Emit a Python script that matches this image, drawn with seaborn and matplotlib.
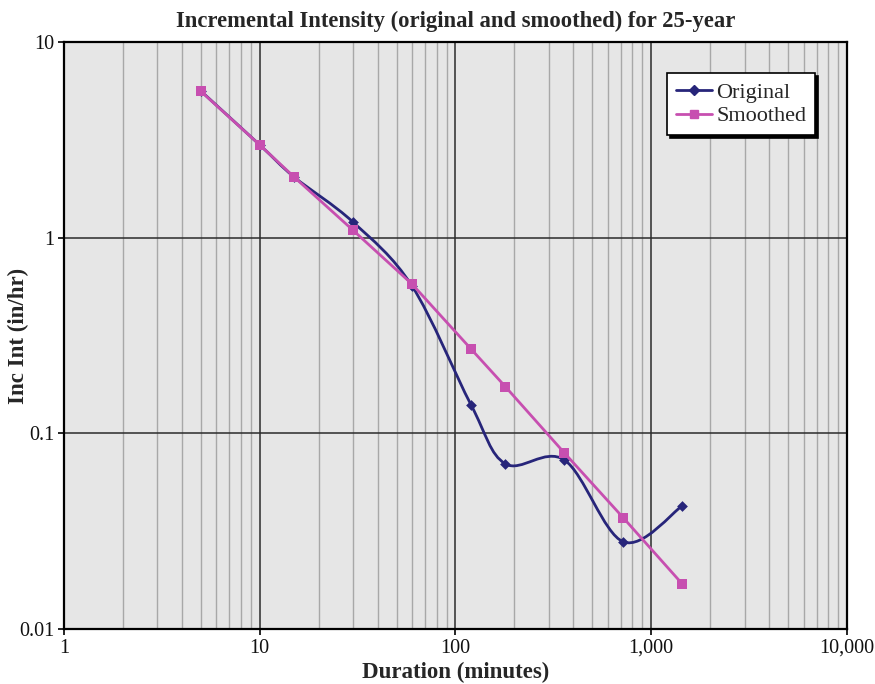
import numpy as np
import pandas as pd
import seaborn as sns
import matplotlib
matplotlib.use("Agg")
import matplotlib.pyplot as plt
from matplotlib.path import Path
from matplotlib.patches import PathPatch
from matplotlib.lines import Line2D
from matplotlib.ticker import FixedLocator, LogLocator, NullFormatter

# Storm durations (minutes) and incremental intensities (in/hr)
duration = [5, 10, 15, 30, 60, 120, 180, 360, 720, 1440]
original = [5.62, 2.98, 2.04, 1.20, 0.566, 0.140, 0.0698, 0.0731, 0.0279, 0.0426]
smoothed = [5.60, 2.98, 2.04, 1.09, 0.579, 0.270, 0.173, 0.0794, 0.0370, 0.0170]

x_ticks = [1, 10, 100, 1000, 10000]
x_tick_labels = ["1", "10", "100", "1,000", "10,000"]
y_ticks = [0.01, 0.1, 1, 10]
y_tick_labels = ["0.01", "0.1", "1", "10"]

NAVY = "#27257a"
MAGENTA = "#c74fb0"

sns.set_theme(style="white")
plt.rcParams["font.family"] = ["Liberation Serif", "DejaVu Serif"]

fig = plt.figure(figsize=(8.75, 6.84), dpi=100)
ax = fig.add_axes([0.0731, 0.0804, 0.8949, 0.8582])
ax.set_facecolor("#e6e6e6")

df = pd.DataFrame({"duration": duration, "original": original, "smoothed": smoothed})

# Smoothed series: straight segments with square markers
sns.lineplot(data=df, x="duration", y="smoothed", ax=ax, color=MAGENTA,
             linewidth=2.0, marker="s", markersize=7, markeredgewidth=0,
             zorder=4, legend=False)


def smooth_path(xs, ys, tension=1 / 6):
    """Cubic Bezier through the points (Catmull-Rom style) built in log space."""
    lx, ly = np.log10(xs), np.log10(ys)
    n = len(lx)
    verts = [(xs[0], ys[0])]
    codes = [Path.MOVETO]
    for i in range(n - 1):
        p0 = i - 1 if i > 0 else i
        p3 = i + 2 if i + 2 < n else i + 1
        c1 = (lx[i] + (lx[i + 1] - lx[p0]) * tension, ly[i] + (ly[i + 1] - ly[p0]) * tension)
        c2 = (lx[i + 1] - (lx[p3] - lx[i]) * tension, ly[i + 1] - (ly[p3] - ly[i]) * tension)
        verts += [(10 ** c1[0], 10 ** c1[1]), (10 ** c2[0], 10 ** c2[1]), (xs[i + 1], ys[i + 1])]
        codes += [Path.CURVE4] * 3
    return Path(verts, codes)


# Original series: smoothed curve with diamond markers
ax.add_patch(PathPatch(smooth_path(duration, original), facecolor="none",
                       edgecolor=NAVY, linewidth=2.0, zorder=3))
sns.scatterplot(data=df, x="duration", y="original", ax=ax, color=NAVY,
                marker="D", s=30, linewidth=0, zorder=3.5, legend=False)

ax.set_xscale("log")
ax.set_yscale("log")
ax.set_xlim(1, 10000)
ax.set_ylim(0.01, 10)

ax.xaxis.set_major_locator(FixedLocator(x_ticks))
ax.set_xticklabels(x_tick_labels)
ax.yaxis.set_major_locator(FixedLocator(y_ticks))
ax.set_yticklabels(y_tick_labels)
ax.xaxis.set_minor_locator(LogLocator(base=10, subs=np.arange(2, 10)))
ax.xaxis.set_minor_formatter(NullFormatter())
ax.yaxis.set_minor_locator(FixedLocator([]))

ax.grid(which="major", color="#2b2b2b", linewidth=1.1, zorder=1)
ax.grid(which="minor", axis="x", color="#a8a8a8", linewidth=1.0, zorder=0.5)
ax.set_axisbelow(True)

for side in ["top", "bottom", "left", "right"]:
    ax.spines[side].set_color("black")
    ax.spines[side].set_linewidth(1.6)

ax.tick_params(axis="both", which="major", direction="out", length=4, width=1.2,
               color="black", labelsize=14.5, labelcolor="#111111", pad=3,
               bottom=True, left=True)
ax.tick_params(axis="both", which="minor", length=0)

ax.set_xlabel("Duration (minutes)", fontsize=16.5, fontweight="bold", labelpad=3)
ax.set_ylabel("Inc Int (in/hr)", fontsize=16.5, fontweight="bold")
ax.yaxis.set_label_coords(-0.045, 0.5)
ax.set_title("Incremental Intensity (original and smoothed) for 25-year",
             fontsize=16.3, fontweight="bold", pad=11)

handles = [
    Line2D([], [], color=NAVY, linewidth=2, marker="D", markersize=5),
    Line2D([], [], color=MAGENTA, linewidth=2, marker="s", markersize=6),
]
leg = ax.legend(handles, ["Original", "Smoothed"], loc="upper right",
                bbox_to_anchor=(0.959, 0.947), fontsize=16, frameon=True,
                fancybox=False, shadow={"color": "black", "alpha": 1},
                framealpha=1, edgecolor="black",
                handlelength=1.6, handletextpad=0.2, borderpad=0.4,
                labelspacing=0.15, borderaxespad=0)
leg.get_frame().set_linewidth(1.2)
leg.set_zorder(6)

fig.savefig("out.png", dpi=100)
